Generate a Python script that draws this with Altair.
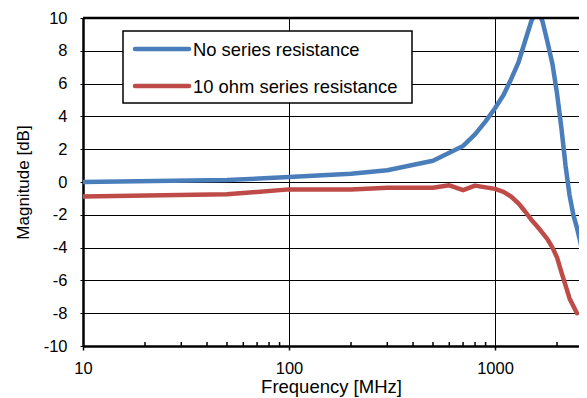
import altair as alt
import pandas as pd

# Blue: no series resistance
blue_freq = [10, 50, 100, 200, 300, 500, 700, 800, 900, 1000, 1100, 1200, 1300, 1400, 1500, 1600,
             1700, 1800, 1900, 2000, 2100, 2200, 2300, 2400, 2500, 2600, 2800]
blue_mag = [0.0, 0.12, 0.3, 0.5, 0.72, 1.3, 2.2, 2.9, 3.7, 4.5, 5.3, 6.3, 7.3, 8.6, 9.8, 10.5,
            9.8, 8.5, 7.2, 5.4, 3.3, 1.0, -0.8, -2.0, -2.8, -3.7, -5.8]

# Red: 10 ohm series resistance
red_freq = [10, 50, 100, 200, 300, 500, 600, 700, 800, 1000, 1100, 1200, 1300, 1400, 1500, 1600,
            1700, 1800, 1900, 2000, 2100, 2200, 2300, 2500]
red_mag = [-0.88, -0.75, -0.45, -0.45, -0.35, -0.35, -0.2, -0.5, -0.22, -0.42, -0.6, -0.9, -1.3,
           -1.8, -2.3, -2.7, -3.1, -3.5, -4.0, -4.6, -5.5, -6.3, -7.1, -8.0]

series_names = ["No series resistance", "10 ohm series resistance"]
series_colors = ["#4a7ebb", "#be4b48"]

x_major = [10, 100, 1000]
x_minor = [20, 30, 40, 50, 60, 70, 80, 90, 200, 300, 400, 500, 600, 700, 800, 900, 2000]
y_ticks = list(range(-10, 11, 2))

df = pd.concat([
    pd.DataFrame({"freq": blue_freq, "mag": blue_mag, "series": series_names[0], "order": 0}),
    pd.DataFrame({"freq": red_freq, "mag": red_mag, "series": series_names[1], "order": 1}),
])
minor_df = pd.DataFrame({"freq": x_minor})
one = pd.DataFrame({"a": [0]})

FONT = "Liberation Sans"
W, H = 496, 328

xscale = alt.Scale(type="log", domain=[10, 2557], nice=False)
yscale = alt.Scale(domain=[-10, 10], nice=False)

lines = alt.Chart(df).mark_line(strokeWidth=4.5, clip=True, strokeJoin="round", strokeCap="round").encode(
    x=alt.X("freq:Q", scale=xscale,
            axis=alt.Axis(values=x_major, title="Frequency [MHz]", format="d",
                          grid=True, gridColor="#000000", gridWidth=1,
                          domainColor="#000000", domainWidth=2.5,
                          tickColor="#000000", tickSize=4, tickWidth=1.5,
                          labelFont=FONT, labelFontSize=16.5, labelColor="#000000",
                          labelPadding=10, labelFlush=False,
                          titleFont=FONT, titleFontSize=18.5, titleFontWeight="normal",
                          titleColor="#000000", titlePadding=1)),
    y=alt.Y("mag:Q", scale=yscale,
            axis=alt.Axis(values=y_ticks, title="Magnitude [dB]",
                          labelExpr="'' + datum.value",
                          grid=True, gridColor="#000000", gridWidth=1,
                          domainColor="#000000", domainWidth=2.5,
                          tickColor="#000000", tickSize=3, tickWidth=1,
                          labelFont=FONT, labelFontSize=16.5, labelColor="#000000",
                          labelPadding=13,
                          titleFont=FONT, titleFontSize=17, titleFontWeight="normal",
                          titleColor="#000000", titlePadding=11)),
    color=alt.Color("series:N", sort=series_names,
                    scale=alt.Scale(domain=series_names, range=series_colors),
                    legend=None),
    order="order:Q",
    detail="series:N",
)

minor = alt.Chart(minor_df).mark_rule(color="#000000", strokeWidth=1.5).encode(
    x=alt.X("freq:Q", scale=xscale),
    y=alt.value(H - 4),
    y2=alt.value(H),
)

top_border = alt.Chart(one).mark_rule(color="#000000", strokeWidth=2.5).encode(
    x=alt.value(0), x2=alt.value(W), y=alt.value(0),
)

# Legend box (drawn manually to match the framed Excel legend)
LX0, LX1, LY0, LY1 = 40, 329, 13, 85
legend_box = alt.Chart(one).mark_rect(fill="#ffffff", stroke="#000000", strokeWidth=1.5).encode(
    x=alt.value(LX0), x2=alt.value(LX1), y=alt.value(LY0), y2=alt.value(LY1),
)
legend_layers = [legend_box]
for i, (name, col) in enumerate(zip(series_names, series_colors)):
    ry = 31 + 37 * i
    legend_layers.append(
        alt.Chart(one).mark_rule(color=col, strokeWidth=4.5, strokeCap="round").encode(
            x=alt.value(52), x2=alt.value(106), y=alt.value(ry)))
    legend_layers.append(
        alt.Chart(one).mark_text(font=FONT, fontSize=18.4, color="#000000", align="left",
                                 baseline="middle").encode(
            x=alt.value(110), y=alt.value(ry + 0.5), text=alt.value(name)))

chart = alt.layer(lines, minor, top_border, *legend_layers).properties(
    width=W, height=H,
    autosize=alt.AutoSizeParams(type="none"),
    padding={"left": 75, "top": 10, "right": 0, "bottom": 60},
).configure_view(strokeWidth=0).configure(background="#ffffff")

chart.save("out.html", embed_options={"renderer": "svg", "actions": False})
